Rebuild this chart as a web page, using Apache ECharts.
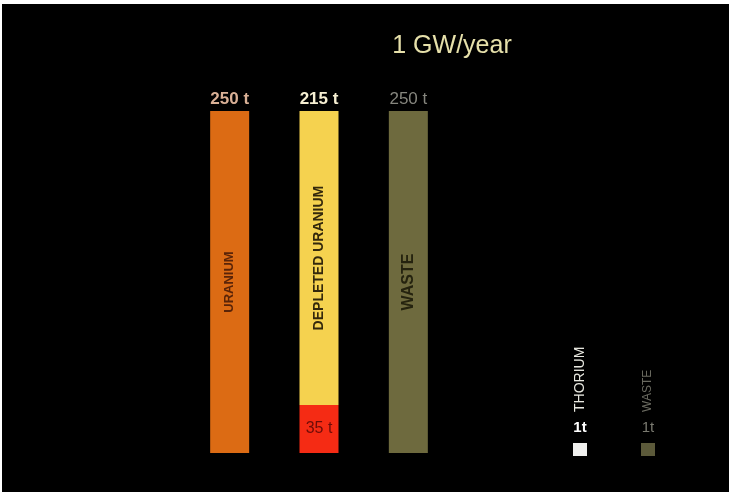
<!DOCTYPE html>
<html>
<head>
<meta charset="utf-8">
<script src="https://cdn.jsdelivr.net/npm/echarts@6/dist/echarts.min.js"></script>
<style>
html,body{margin:0;padding:0;background:#fff;}
#c{width:731px;height:498px;}
</style>
</head>
<body>
<div id="c"></div>
<script>
// ---- data ----
const title = '1 GW/year';
const mainCategories = ['Uranium', 'Enrichment', 'Waste'];
const lowerNames = ['URANIUM', '35 t', 'WASTE'];
const lowerTonnes = [250, 35, 250];      // uranium feed, enriched fuel, waste
const upperNames = [null, 'DEPLETED URANIUM', null];
const upperTonnes = [null, 215, null];   // depleted uranium tails
const topLabels = ['250 t', '215 t', '250 t'];
const smallCategories = ['THORIUM', 'WASTE'];
const smallTonnes = [1, 1];
const smallLabels = ['1t', '1t'];

const chart = echarts.init(document.getElementById('c'), null, {renderer: 'canvas'});

const SANS = 'Liberation Sans, Arial, sans-serif';
const lowerColors = ['#dc6b14', '#f52b14', '#6e6a3e'];
const lowerLabelStyles = [
  {rotate: 90, color: '#5a2408', fontSize: 13, fontWeight: 'bold', fontFamily: SANS},
  {rotate: 0, color: '#6e0c08', fontSize: 16, fontWeight: 'normal', fontFamily: SANS},
  {rotate: 90, color: '#25230f', fontSize: 16, fontWeight: 'bold', fontFamily: SANS}
];

const option = {
  backgroundColor: '#ffffff',
  animation: false,
  graphic: [{
    type: 'rect', z: -100, silent: true,
    shape: {x: 2, y: 4, width: 727, height: 488},
    style: {fill: '#000000'}
  }],
  title: {
    text: title,
    left: 447, top: 29, textAlign: 'center',
    textStyle: {color: '#e6e0aa', fontSize: 25, fontWeight: 'normal', fontFamily: SANS}
  },
  grid: [
    {left: 185, top: 111, width: 268, height: 342, containLabel: false},
    {left: 546, top: 443, width: 136, height: 13, containLabel: false}
  ],
  xAxis: [
    {
      gridIndex: 0, type: 'category', data: mainCategories, position: 'top',
      axisLine: {show: false}, axisTick: {show: false}, splitLine: {show: false},
      axisLabel: {
        margin: 3,
        formatter: (v, i) => '{s' + i + '|' + topLabels[i] + '}',
        rich: {
          s0: {color: '#d9b096', fontSize: 17, fontWeight: 'bold', fontFamily: SANS},
          s1: {color: '#f6efd2', fontSize: 17, fontWeight: 'bold', fontFamily: SANS},
          s2: {color: '#86867e', fontSize: 17, fontWeight: 'normal', fontFamily: SANS}
        }
      }
    },
    {
      gridIndex: 1, type: 'category', data: smallCategories, position: 'top',
      axisLine: {show: false}, axisTick: {show: false}, splitLine: {show: false},
      axisLabel: {
        margin: 31, rotate: 90,
        formatter: (v, i) => '{n' + i + '|' + v + '}',
        rich: {
          n0: {color: '#e8e8e0', fontSize: 14, fontFamily: SANS},
          n1: {color: '#6a6a60', fontSize: 12, fontFamily: SANS}
        }
      }
    }
  ],
  yAxis: [
    {gridIndex: 0, type: 'value', min: 0, max: 250, show: false},
    {gridIndex: 1, type: 'value', min: 0, max: 1, show: false}
  ],
  series: [
    {
      type: 'bar', xAxisIndex: 0, yAxisIndex: 0, stack: 'main', barWidth: 39,
      data: lowerTonnes.map((v, i) => ({
        value: v,
        itemStyle: {color: lowerColors[i]},
        label: Object.assign({show: true, position: 'inside', formatter: lowerNames[i]}, lowerLabelStyles[i])
      }))
    },
    {
      type: 'bar', xAxisIndex: 0, yAxisIndex: 0, stack: 'main', barWidth: 39,
      data: upperTonnes.map((v, i) => v == null ? null : ({
        value: v,
        itemStyle: {color: '#f5d24f'},
        label: {show: true, position: 'inside', rotate: 90, formatter: upperNames[i],
          color: '#33280c', fontSize: 14, fontWeight: 'bold', fontFamily: SANS}
      }))
    },
    {
      type: 'bar', xAxisIndex: 1, yAxisIndex: 1, barWidth: 14,
      data: smallTonnes.map((v, i) => ({
        value: v,
        itemStyle: {color: i === 0 ? '#f0f0ee' : '#5c5a3a'},
        label: {show: true, position: 'top', distance: 8, formatter: smallLabels[i],
          color: i === 0 ? '#ffffff' : '#7a7a70', fontSize: 15, fontWeight: i === 0 ? 'bold' : 'normal',
          fontFamily: SANS}
      }))
    }
  ]
};
chart.setOption(option);
</script>
</body>
</html>
